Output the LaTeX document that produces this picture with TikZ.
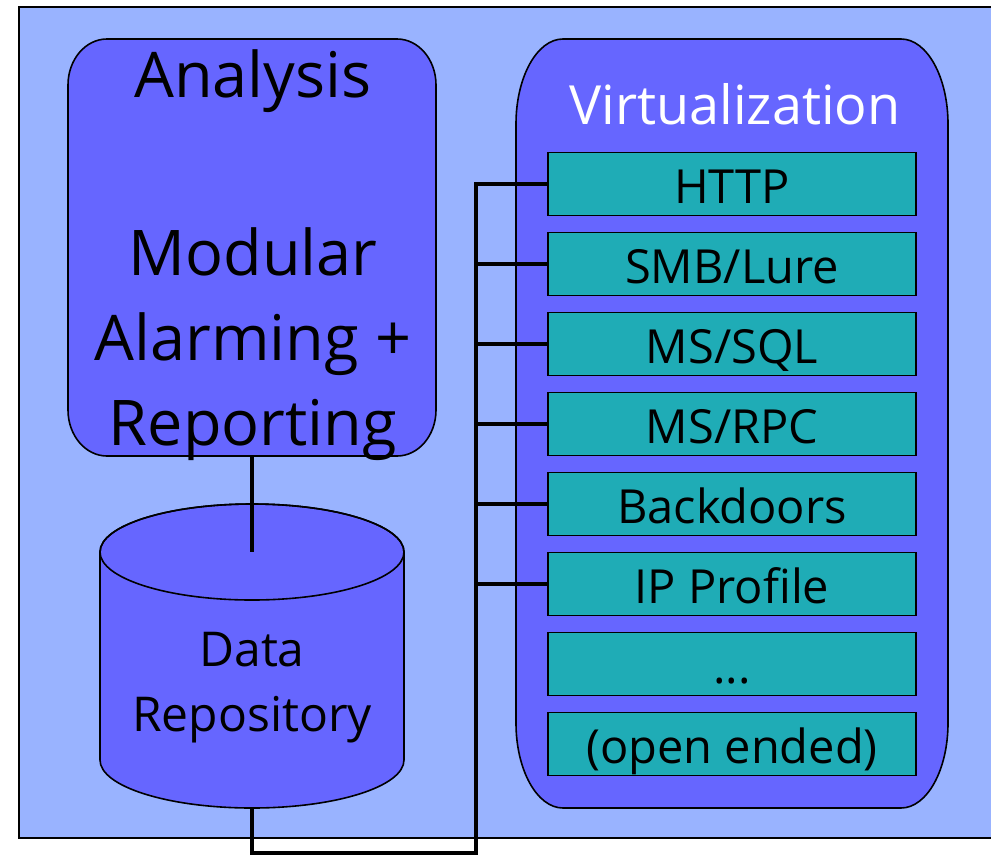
\documentclass[tikz,border=0pt]{standalone}
\usepackage{fontspec}
\setmainfont{Open Sans}
\definecolor{bgblue}{HTML}{99B3FF}
\definecolor{boxblue}{HTML}{6666FF}
\definecolor{svcgreen}{HTML}{1FACB6}
\tikzset{
  outline/.style={draw=black, line width=1.6pt},
  svcbox/.style={outline, fill=svcgreen, rectangle, minimum width=368pt, minimum height=63pt,
    inner sep=0pt, text height=42pt, text depth=4pt, font=\fontsize{47}{50}\selectfont},
  conn/.style={draw=black, line width=3.5pt},
  bigtext/.style={anchor=base, inner sep=0pt, font=\fontsize{63}{70}\selectfont},
}
\begin{document}
\begin{tikzpicture}[x=1pt,y=-1pt]
\useasboundingbox (0,0) rectangle (991,855);
\fill[white] (0,0) rectangle (991,855);
% outer background
\draw[fill=bgblue, line width=1.5pt] (19,7) rectangle (1000,838);

% Analysis box
\draw[outline, fill=boxblue] (107,39) -- (397,39)
  arc[start angle=-90, end angle=0, x radius=39, y radius=46] -- (436,410)
  arc[start angle=0, end angle=90, x radius=39, y radius=46] -- (107,456)
  arc[start angle=90, end angle=180, x radius=39, y radius=46] -- (68,85)
  arc[start angle=180, end angle=270, x radius=39, y radius=46] -- cycle;
\node[inner sep=0pt, minimum width=368pt, minimum height=417pt] (analysis) at (252,247.5) {};
\node[bigtext] (tanalysis) at (253,97) {Analysis};
\node[bigtext] (tmodular) at (253,275) {Modular};
\node[bigtext] (talarming) at (253,360) {Alarming +};
\node[bigtext] (treporting) at (253,445) {Reporting};

% Virtualization box
\draw[outline, fill=boxblue] (563,39) -- (901,39)
  arc[start angle=-90, end angle=0, x radius=47, y radius=85] -- (948,723)
  arc[start angle=0, end angle=90, x radius=47, y radius=85] -- (563,808)
  arc[start angle=90, end angle=180, x radius=47, y radius=85] -- (516,124)
  arc[start angle=180, end angle=270, x radius=47, y radius=85] -- cycle;
\node[anchor=base, inner sep=0pt, text=white, font=\fontsize{54}{60}\selectfont] (tvirt) at (735,124) {Virtualization};

% service boxes
\node[svcbox] (http) at (732,184) {HTTP};
\node[svcbox] (smb) at (732,264) {SMB/Lure};
\node[svcbox] (mssql) at (732,344) {MS/SQL};
\node[svcbox] (msrpc) at (732,424) {MS/RPC};
\node[svcbox] (backdoors) at (732,504) {Backdoors};
\node[svcbox] (ipprofile) at (732,584) {IP Profile};
\node[svcbox] (dots) at (732,664) {...};
\node[svcbox] (openended) at (732,744) {(open ended)};

% Data repository cylinder
\draw[outline, fill=boxblue] (100,552) -- (100,760)
  arc[start angle=180, end angle=0, x radius=152, y radius=48] -- (404,552)
  arc[start angle=0, end angle=-180, x radius=152, y radius=48] -- cycle;
\draw[outline] (252,552) ellipse[x radius=152, y radius=48];
\coordinate (repotop) at (252,552);
\coordinate (repobot) at (252,808);
\node[align=center, inner sep=0pt, font=\fontsize{48}{65}\selectfont] (repo) at (252,688) {Data\\Repository};

% connectors
\coordinate (busbot) at (476,853);
\coordinate (bustop) at (476,184);
\draw[conn] (analysis.south) -- (repotop);
\draw[conn] (repobot) |- (busbot) -- (bustop) -- (http.west);
\foreach \n in {smb,mssql,msrpc,backdoors,ipprofile}
  \draw[conn] (bustop |- \n.west) -- (\n.west);
\end{tikzpicture}
\end{document}
